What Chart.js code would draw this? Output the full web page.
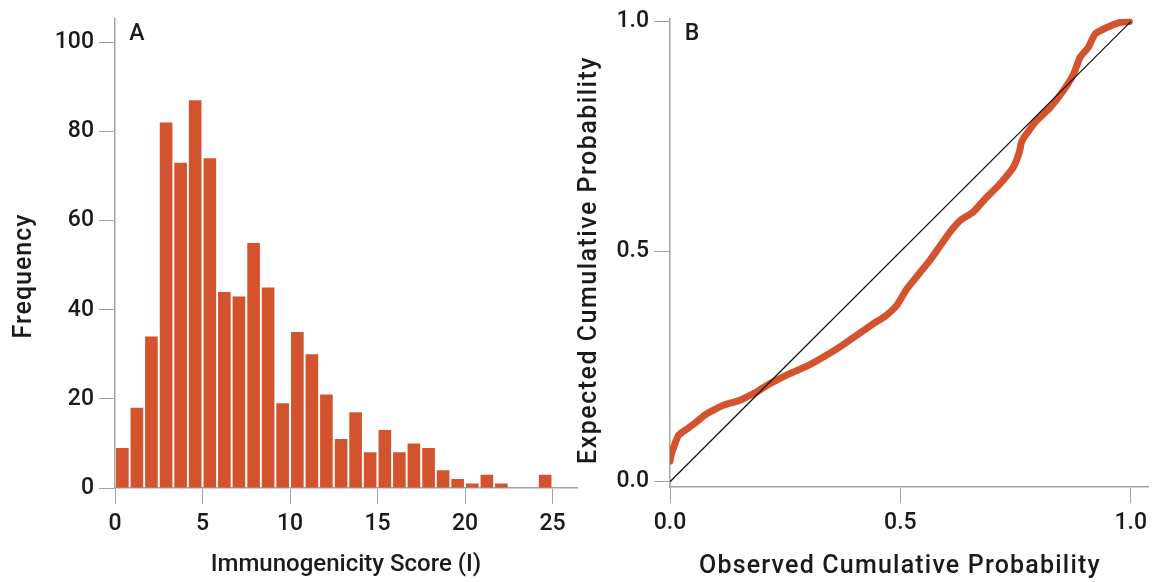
<!DOCTYPE html>
<html>
<head>
<meta charset="utf-8">
<script src="https://cdn.jsdelivr.net/npm/chart.js@4"></script>
<style>
  body { margin: 0; background: #fff; }
  #wrapA { position: absolute; left: 0; top: 0; width: 590px; height: 582px; }
  #wrapB { position: absolute; left: 560px; top: 0; width: 598px; height: 582px; }
</style>
</head>
<body>
<div id="wrapA"><canvas id="histChart"></canvas></div>
<div id="wrapB"><canvas id="ppChart"></canvas></div>
<script>
// histogram bins (centres, width 25/30) and counts
const binCentres = [0.42, 1.25, 2.08, 2.92, 3.75, 4.58, 5.42, 6.25, 7.08, 7.92,
    8.75, 9.58, 10.42, 11.25, 12.08, 12.92, 13.75, 14.58, 15.42, 16.25,
    17.08, 17.92, 18.75, 19.58, 20.42, 21.25, 22.08, 22.92, 23.75, 24.58];
const frequency = [9, 18, 34, 82, 73, 87, 74, 44, 43, 55,
    45, 19, 35, 30, 21, 11, 17, 8, 13, 8,
    10, 9, 4, 2, 1, 3, 1, 0, 0, 3];
const histXTicks = [0, 5, 10, 15, 20, 25];
const histYTicks = [0, 20, 40, 60, 80, 100];

// P-P plot
const ppObserved = [0.0, 0.003, 0.008, 0.018, 0.03, 0.043, 0.06, 0.076, 0.095, 0.116,
    0.135, 0.152, 0.17, 0.188, 0.205, 0.224, 0.26, 0.297, 0.333, 0.369,
    0.405, 0.441, 0.47, 0.492, 0.514, 0.535, 0.564, 0.586, 0.608, 0.63,
    0.658, 0.687, 0.716, 0.745, 0.758, 0.763, 0.774, 0.796, 0.825, 0.854,
    0.876, 0.89, 0.908, 0.923, 0.948, 0.977, 0.997];
const ppExpected = [0.045, 0.06, 0.075, 0.10, 0.11, 0.119, 0.132, 0.145, 0.156, 0.166,
    0.172, 0.177, 0.186, 0.195, 0.206, 0.217, 0.235, 0.251, 0.271, 0.293,
    0.318, 0.343, 0.362, 0.383, 0.419, 0.445, 0.481, 0.512, 0.543, 0.568,
    0.586, 0.618, 0.647, 0.683, 0.715, 0.738, 0.756, 0.785, 0.813, 0.850,
    0.886, 0.922, 0.944, 0.973, 0.987, 0.998, 1.0];
const ppTicks = [0, 0.5, 1];

const ORANGE = '#d4532f';
const AXIS = '#a3a3a3';
const FONT = 'Roboto';

Chart.defaults.font.family = FONT;
Chart.defaults.font.weight = '500';
Chart.defaults.color = '#1a1a1a';

function fixedTicks(list) {
    return function (scale) {
        scale.ticks = list.map(v => ({ value: v }));
    };
}

// draws panel letters and axis titles at fixed places
function labelsPlugin(items) {
    return {
        id: 'labels',
        afterDraw(chart) {
            const ctx = chart.ctx;
            ctx.save();
            ctx.fillStyle = '#1a1a1a';
            items.forEach(t => {
                ctx.save();
                ctx.font = '500 ' + t.size + 'px ' + FONT;
                ctx.letterSpacing = (t.spacing || 0) + 'px';
                ctx.translate(t.x, t.y);
                if (t.rot) ctx.rotate(t.rot);
                ctx.textAlign = t.align || 'center';
                ctx.textBaseline = 'middle';
                ctx.fillText(t.text, 0, 0);
                ctx.restore();
            });
            ctx.restore();
        }
    };
}

const axisStyle = {
    grid: { drawOnChartArea: false, drawTicks: true, tickLength: 16, color: AXIS, lineWidth: 1, offset: false },
    border: { display: true, color: AXIS, width: 1.5 }
};

const histChart = new Chart(document.getElementById('histChart'), {
    type: 'bar',
    data: {
        datasets: [{
            data: binCentres.map((c, i) => ({ x: c, y: frequency[i] })),
            backgroundColor: ORANGE,
            borderWidth: 0,
            barPercentage: 0.87,
            categoryPercentage: 1.0
        }]
    },
    options: {
        responsive: true,
        maintainAspectRatio: false,
        animation: false,
        layout: { padding: { top: 15, right: 13, left: 0, bottom: 0 } },
        plugins: { legend: { display: false }, tooltip: { enabled: false } },
        scales: {
            x: {
                type: 'linear',
                offset: false,
                min: 0,
                max: 26.4,
                afterBuildTicks: fixedTicks(histXTicks),
                afterFit: s => { s.height = 94; },
                ticks: { font: { size: 23 }, padding: 6, maxRotation: 0 },
                ...axisStyle
            },
            y: {
                min: 0,
                max: 105.3,
                afterBuildTicks: fixedTicks(histYTicks),
                afterFit: s => { s.width = 115; },
                ticks: { font: { size: 23 }, padding: 5 },
                ...axisStyle
            }
        }
    },
    plugins: [labelsPlugin([
        { text: 'A', x: 137, y: 34, size: 23 },
        { text: 'Frequency', x: 25, y: 276, size: 25, spacing: 1, rot: -Math.PI / 2 },
        { text: 'Immunogenicity Score (I)', x: 346, y: 565, size: 24 }
    ])]
});

const ppChart = new Chart(document.getElementById('ppChart'), {
    type: 'line',
    data: {
        datasets: [{
            data: [{ x: 0, y: 0 }, { x: 1, y: 1 }],
            borderColor: '#111',
            borderWidth: 1.2,
            pointRadius: 0,
            order: 0
        }, {
            data: ppObserved.map((o, i) => ({ x: o, y: ppExpected[i] })),
            borderColor: ORANGE,
            borderWidth: 7,
            borderCapStyle: 'round',
            borderJoinStyle: 'round',
            pointRadius: 0,
            tension: 0.2,
            order: 1
        }]
    },
    options: {
        responsive: true,
        maintainAspectRatio: false,
        animation: false,
        layout: { padding: { top: 18, right: 10, left: 0, bottom: 0 } },
        plugins: { legend: { display: false }, tooltip: { enabled: false } },
        scales: {
            x: {
                type: 'linear',
                min: 0,
                max: 1.0375,
                afterBuildTicks: fixedTicks(ppTicks),
                afterFit: s => { s.height = 95; },
                ticks: { font: { size: 23 }, padding: 6, maxRotation: 0, callback: v => v.toFixed(1) },
                ...axisStyle
            },
            y: {
                min: -0.0115,
                max: 1.006,
                afterBuildTicks: fixedTicks(ppTicks),
                afterFit: s => { s.width = 110; },
                ticks: { font: { size: 23 }, padding: 5, callback: v => v.toFixed(1) },
                ...axisStyle
            }
        }
    },
    plugins: [labelsPlugin([
        { text: 'B', x: 132, y: 34, size: 23 },
        { text: 'Expected Cumulative Probability', x: 30, y: 260, size: 25, spacing: 1.5, rot: -Math.PI / 2 },
        { text: 'Observed Cumulative Probability', x: 340, y: 567, size: 25, spacing: 1.2 }
    ])]
});
</script>
</body>
</html>
